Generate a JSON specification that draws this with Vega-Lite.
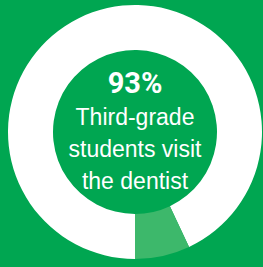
{
  "$schema": "https://vega.github.io/schema/vega-lite/v6.json",
  "width": 263,
  "height": 267,
  "autosize": {"type": "fit", "contains": "padding"},
  "padding": {"left": 7, "right": 0, "top": 0, "bottom": 3},
  "background": "#00a651",
  "config": {"view": {"stroke": null}},
  "layer": [
    {
      "data": {"values": [
        {"category": "Visit the dentist", "value": 93, "order": 1},
        {"category": "Do not visit", "value": 7, "order": 2}
      ]},
      "mark": {"type": "arc", "outerRadius": 127, "innerRadius": 82, "strokeWidth": 0},
      "encoding": {
        "theta": {"field": "value", "type": "quantitative", "stack": true, "scale": {"range": [3.14159265, 9.42477796]}},
        "order": {"field": "order", "type": "quantitative"},
        "color": {"field": "category", "type": "nominal", "legend": null,
          "scale": {"domain": ["Visit the dentist", "Do not visit"], "range": ["#ffffff", "#3db86b"]}}
      }
    },
    {
      "data": {"values": [{"line": 1, "text": "93%"}]},
      "mark": {"type": "text", "font": "Roboto", "fontWeight": "bold", "fontSize": 29, "color": "#ffffff", "align": "center", "baseline": "alphabetic"},
      "encoding": {
        "y": {"field": "line", "type": "quantitative", "axis": null, "scale": {"domain": [-1.906, 6.344], "reverse": true, "nice": false, "zero": false}},
        "text": {"field": "text"}
      }
    },
    {
      "data": {"values": [
        {"line": 2, "text": "Third-grade"},
        {"line": 3, "text": "students visit"},
        {"line": 4, "text": "the dentist"}
      ]},
      "mark": {"type": "text", "font": "Liberation Sans", "fontSize": 23, "color": "#ffffff", "align": "center", "baseline": "alphabetic"},
      "encoding": {
        "y": {"field": "line", "type": "quantitative", "axis": null, "scale": {"domain": [-1.906, 6.344], "reverse": true, "nice": false, "zero": false}},
        "text": {"field": "text"}
      }
    }
  ]
}
